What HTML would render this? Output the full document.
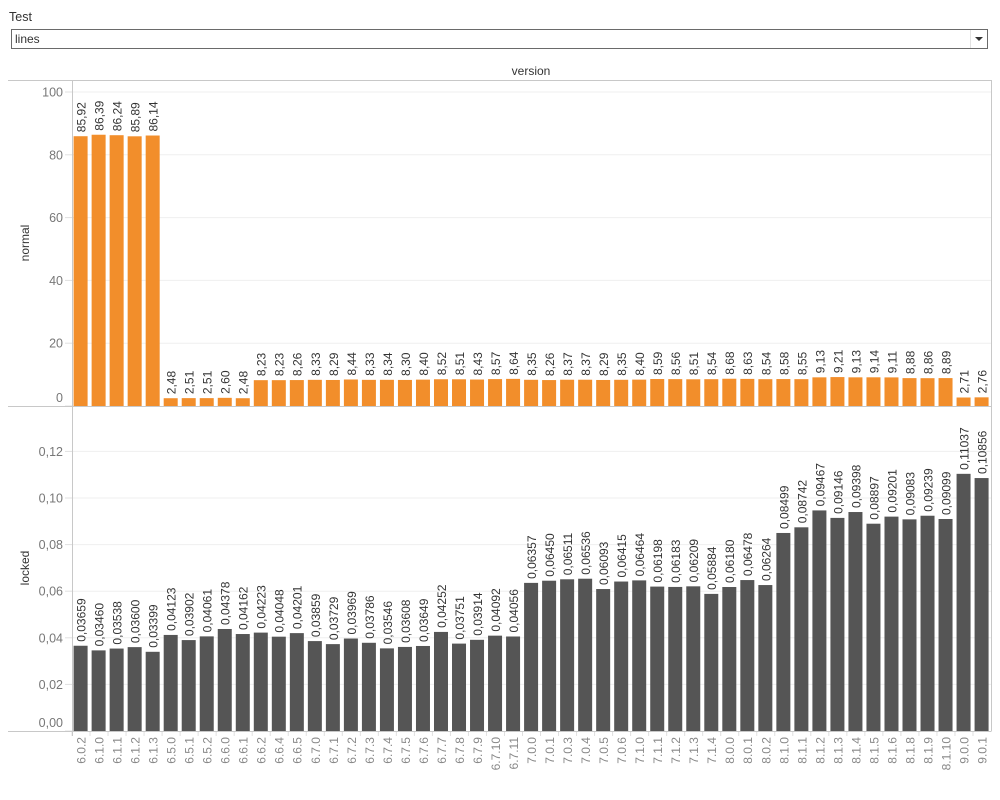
<!DOCTYPE html>
<html><head><meta charset="utf-8"><style>
html,body{margin:0;padding:0;background:#fff;width:1000px;height:800px;overflow:hidden;font-family:"Liberation Sans",Arial,sans-serif;}
svg{display:block}
</style></head><body>
<svg id="s" width="1000" height="800" xmlns="http://www.w3.org/2000/svg" font-family="Liberation Sans, Arial, sans-serif">
<text x="9" y="21" font-size="12.5" fill="#333">Test</text>
<rect x="11.5" y="29.5" width="976" height="19" fill="#fff" stroke="#6a6a6a" stroke-width="1"/>
<line x1="970.5" y1="30" x2="970.5" y2="48" stroke="#e2e2e2"/>
<text x="15" y="43" font-size="12" fill="#333">lines</text>
<path d="M975 37 L983 37 L979 41 Z" fill="#333"/>
<text x="531" y="75" font-size="12" fill="#333" text-anchor="middle">version</text>
<g id="grid"></g>
<g id="bars"></g>
<g id="axes"></g>
<g id="labels"></g>
</svg>
<script>
var top_=[85.92,86.39,86.24,85.89,86.14,2.48,2.51,2.51,2.60,2.48,8.23,8.23,8.26,8.33,8.29,8.44,8.33,8.34,8.30,8.40,8.52,8.51,8.43,8.57,8.64,8.35,8.26,8.37,8.37,8.29,8.35,8.40,8.59,8.56,8.51,8.54,8.68,8.63,8.54,8.58,8.55,9.13,9.21,9.13,9.14,9.11,8.88,8.86,8.89,2.71,2.76];
var bot=[0.03659,0.03460,0.03538,0.03600,0.03399,0.04123,0.03902,0.04061,0.04378,0.04162,0.04223,0.04048,0.04201,0.03859,0.03729,0.03969,0.03786,0.03546,0.03608,0.03649,0.04252,0.03751,0.03914,0.04092,0.04056,0.06357,0.06450,0.06511,0.06536,0.06093,0.06415,0.06464,0.06198,0.06183,0.06209,0.05884,0.06180,0.06478,0.06264,0.08499,0.08742,0.09467,0.09146,0.09398,0.08897,0.09201,0.09083,0.09239,0.09099,0.11037,0.10856];
var names=["6.0.2","6.1.0","6.1.1","6.1.2","6.1.3","6.5.0","6.5.1","6.5.2","6.6.0","6.6.1","6.6.2","6.6.4","6.6.5","6.7.0","6.7.1","6.7.2","6.7.3","6.7.4","6.7.5","6.7.6","6.7.7","6.7.8","6.7.9","6.7.10","6.7.11","7.0.0","7.0.1","7.0.3","7.0.4","7.0.5","7.0.6","7.1.0","7.1.1","7.1.2","7.1.3","7.1.4","8.0.0","8.0.1","8.0.2","8.1.0","8.1.1","8.1.2","8.1.3","8.1.4","8.1.5","8.1.6","8.1.8","8.1.9","8.1.10","9.0.0","9.0.1"];
var X0=72,W=919,N=51,P=W/N;
var g='',b='',a='',l='';
// top grid
for(var v=0;v<=100;v+=20){var y=406-v*3.14;if(v>0)g+='<line x1="72" x2="991" y1="'+y+'" y2="'+y+'" stroke="#efefef"/>';
g+='<line x1="65" x2="72" y1="'+y+'" y2="'+y+'" stroke="#e0e0e0"/>';
l+='<text x="63" y="'+(v==0?402:y+4.5)+'" font-size="12.5" fill="#777" text-anchor="end">'+v+'</text>';}
// bottom grid
for(var k=0;k<=6;k++){var v2=k*0.02;var y2=731-v2*2330;if(k>0)g+='<line x1="72" x2="991" y1="'+y2+'" y2="'+y2+'" stroke="#efefef"/>';
g+='<line x1="65" x2="72" y1="'+y2+'" y2="'+y2+'" stroke="#e0e0e0"/>';
l+='<text x="63" y="'+(k==0?727:y2+4.5)+'" font-size="12.5" fill="#777" text-anchor="end">'+v2.toFixed(2).replace('.',',')+'</text>';}
for(var i=0;i<N;i++){
 var bx=X0+i*P+1.6,cx=X0+(i+0.5)*P;
 var h=top_[i]*3.14, ty=406-h;
 b+='<rect x="'+bx+'" y="'+ty+'" width="14" height="'+h+'" fill="#f28e2b"/>';
 l+='<text transform="translate('+(cx+0.5)+','+(ty-4)+') rotate(-90)" font-size="12" fill="#333" dominant-baseline="central">'+top_[i].toFixed(2).replace('.',',')+'</text>';
 var h2=bot[i]*2330, by=731-h2;
 b+='<rect x="'+bx+'" y="'+by+'" width="14" height="'+h2+'" fill="#555555"/>';
 l+='<text transform="translate('+(cx+0.5)+','+(by-4)+') rotate(-90)" font-size="12" fill="#333" dominant-baseline="central">'+bot[i].toFixed(5).replace('.',',')+'</text>';
 l+='<text transform="translate('+(cx+0.5)+',737) rotate(-90)" font-size="12" fill="#888" text-anchor="end" dominant-baseline="central">'+names[i]+'</text>';
 a+='<line x1="'+(X0+i*P)+'" x2="'+(X0+i*P)+'" y1="731" y2="736" stroke="#e0e0e0"/>';
}
a+='<line x1="8" x2="991.5" y1="80.5" y2="80.5" stroke="#c8c8c8"/>';
a+='<line x1="991.5" x2="991.5" y1="80" y2="731" stroke="#c8c8c8"/>';
a+='<line x1="72.5" x2="72.5" y1="80" y2="736" stroke="#c8c8c8"/>';
a+='<line x1="8" x2="991.5" y1="406.5" y2="406.5" stroke="#c8c8c8"/>';
a+='<line x1="8" x2="991.5" y1="731.5" y2="731.5" stroke="#c8c8c8"/>';
l+='<text transform="translate(25,243) rotate(-90)" font-size="12" fill="#333" text-anchor="middle" dominant-baseline="central">normal</text>';
l+='<text transform="translate(25,568) rotate(-90)" font-size="12" fill="#333" text-anchor="middle" dominant-baseline="central">locked</text>';
document.getElementById('grid').innerHTML=g;
document.getElementById('bars').innerHTML=b;
document.getElementById('axes').innerHTML=a;
document.getElementById('labels').innerHTML=l;
</script>
</body></html>
